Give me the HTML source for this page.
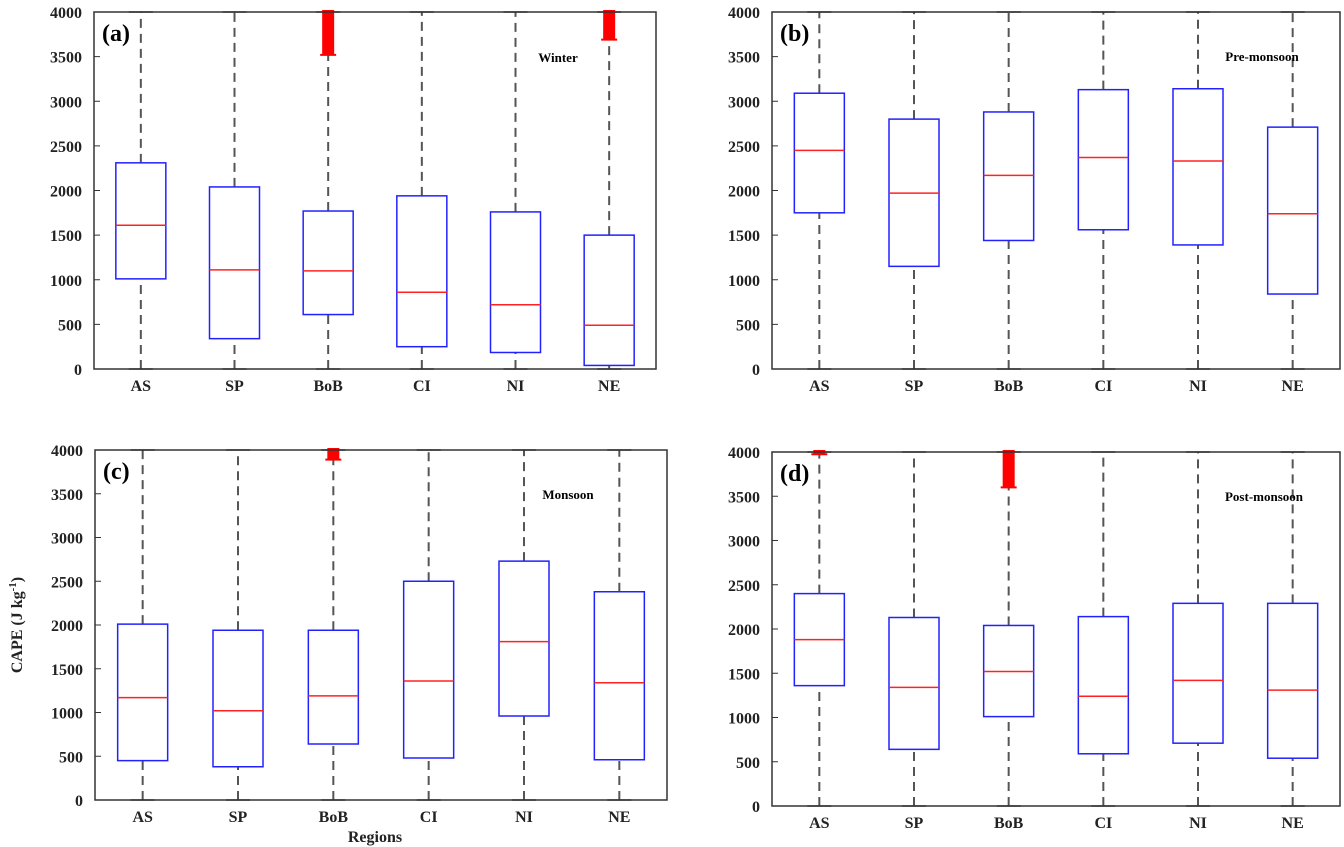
<!DOCTYPE html>
<html><head><meta charset="utf-8"><style>
body{margin:0;background:#fff;}
svg{display:block;font-family:"Liberation Serif",serif;font-weight:bold;}
</style></head><body>
<svg id="chart" width="1344" height="847" viewBox="0 0 1344 847" xmlns="http://www.w3.org/2000/svg"></svg>
<script>
const categories = ["AS","SP","BoB","CI","NI","NE"];
const yTicks = [0,500,1000,1500,2000,2500,3000,3500,4000];
const panelLabels = ["(a)","(b)","(c)","(d)"];
const seasons = ["Winter","Pre-monsoon","Monsoon","Post-monsoon"];
const whiskerLow = [[0,0,0,0,0,0],[0,0,0,0,0,0],[0,0,0,0,0,0],[0,0,0,0,0,0]];
const whiskerHigh = [[4000,4000,4000,4000,4000,4000],[4000,4000,4000,4000,4000,4000],[4000,4000,4000,4000,4000,4000],[4000,4000,4000,4000,4000,4000]];
const q1 = [[1010,340,610,250,185,40],[1750,1150,1440,1560,1390,840],[450,380,640,480,960,460],[1360,640,1010,590,710,540]];
const median = [[1610,1110,1100,860,720,490],[2450,1970,2170,2370,2330,1740],[1170,1020,1190,1360,1810,1340],[1880,1340,1520,1240,1420,1310]];
const q3 = [[2310,2040,1770,1940,1760,1500],[3090,2800,2880,3130,3140,2710],[2010,1940,1940,2500,2730,2380],[2400,2130,2040,2140,2290,2290]];
// outlier ranges [panel, category, from, to]
const outliers = [[0,2,3520,4000],[0,5,3690,4000],[2,2,3890,4000],[3,0,3975,4000],[3,2,3600,4000]];

const NS="http://www.w3.org/2000/svg";
const svg=document.getElementById('chart');
function mk(tag,attrs,parent){const e=document.createElementNS(NS,tag);for(const k in attrs)e.setAttribute(k,attrs[k]);(parent||svg).appendChild(e);return e;}
const panels=[{l:94,r:656,t:12,b:369},{l:772,r:1340,t:12,b:369},{l:95,r:667,t:450,b:800},{l:772,r:1340,t:452,b:806}];
const seasonPos=[[558,62],[1262,61],[568,499],[1264,501]];
panels.forEach((p,pi)=>{
  const g=mk('g',{});
  
  
  const y=v=>p.b-(v/4000)*(p.b-p.t);
  const x=i=>p.l+(i+0.5)*(p.r-p.l)/categories.length;
  const bw=50;
  yTicks.forEach(t=>{
    const ln=mk('line',{x1:p.l,x2:p.l+6,y1:y(t),y2:y(t),stroke:'#333','stroke-width':1},g);
    
    const tx=mk('text',{x:p.l-12,y:y(t)+6,'text-anchor':'end','font-size':16,fill:'#222'},g);
    tx.textContent=t;
  });
  categories.forEach((c,i)=>{
    const cx=x(i);
    const tx=mk('text',{x:cx,y:p.b+22,'text-anchor':'middle','font-size':16,fill:'#222'},g);
    tx.textContent=c;
    const w1=mk('line',{x1:cx,x2:cx,y1:y(q3[pi][i]),y2:y(whiskerHigh[pi][i]),stroke:'#555','stroke-width':2,'stroke-dasharray':'9,6'},g);
    
    const w2=mk('line',{x1:cx,x2:cx,y1:y(whiskerLow[pi][i]),y2:y(q1[pi][i]),stroke:'#555','stroke-width':2,'stroke-dasharray':'9,6'},g);
    
    [whiskerHigh[pi][i],whiskerLow[pi][i]].forEach(v=>{
      const cap=mk('line',{x1:cx-12,x2:cx+12,y1:y(v),y2:y(v),stroke:'#333','stroke-width':1.5},g);
      
    });
    const box=mk('rect',{x:cx-bw/2,y:y(q3[pi][i]),width:bw,height:y(q1[pi][i])-y(q3[pi][i]),fill:'#fff',stroke:'#2222ff','stroke-width':1.5},g);
    
    const md=mk('line',{x1:cx-bw/2,x2:cx+bw/2,y1:y(median[pi][i]),y2:y(median[pi][i]),stroke:'#ff2222','stroke-width':1.5},g);
    
  });
  outliers.filter(o=>o[0]===pi).forEach(o=>{
    const cx=x(o[1]);
    const r=mk('rect',{x:cx-6,y:y(o[3])-2,width:12,height:y(o[2])-y(o[3])+2,fill:'#ff0000'},g);
    
    const h=mk('line',{x1:cx-8,x2:cx+8,y1:y(o[2]),y2:y(o[2]),stroke:'#ff0000','stroke-width':2},g);
    
  });
  const fr=mk('rect',{x:p.l,y:p.t,width:p.r-p.l,height:p.b-p.t,fill:'none',stroke:'#333','stroke-width':1.5},g);
  
  const pl=mk('text',{x:p.l+8,y:p.t+29,'font-size':24,fill:'#000'},g);
  pl.textContent=panelLabels[pi];
  const sl=mk('text',{x:seasonPos[pi][0],y:seasonPos[pi][1],'text-anchor':'middle','font-size':13,fill:'#000'},g);
  sl.textContent=seasons[pi];
});
const xt=mk('text',{x:375,y:842,'text-anchor':'middle','font-size':16,fill:'#222'});
xt.textContent='Regions';
const yt=mk('text',{x:0,y:0,'text-anchor':'middle','font-size':16,fill:'#222',transform:'translate(22,625) rotate(-90)'});
yt.innerHTML='CAPE (J kg<tspan dy="-6" font-size="11">-1</tspan><tspan dy="6">)</tspan>';

</script>
</body></html>
